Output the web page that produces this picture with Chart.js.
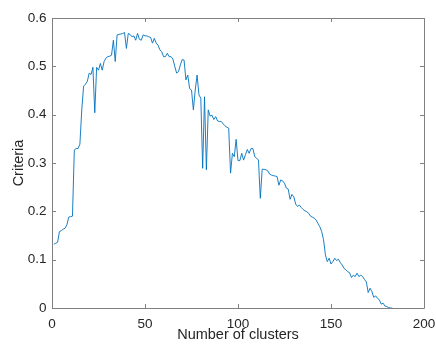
<!DOCTYPE html>
<html>
<head>
<meta charset="utf-8">
<script src="https://cdn.jsdelivr.net/npm/chart.js@4"></script>
<style>
  html, body { margin: 0; padding: 0; background: #fff; }
  #wrap { position: relative; width: 436px; height: 351px; }
</style>
</head>
<body>
<div id="wrap"><canvas id="graph"></canvas></div>
<script>
// number of clusters (x) and criteria value (y)
var clusters = [];
for (var k = 1; k <= 183; k++) clusters.push(k);

var criteria = [
  0.132, 0.134, 0.136, 0.158, 0.160, 0.163, 0.165, 0.172, 0.188, 0.189,
  0.190, 0.327, 0.330, 0.330, 0.339, 0.410, 0.459, 0.463, 0.469, 0.486,
  0.483, 0.498, 0.404, 0.498, 0.492, 0.506, 0.492, 0.510, 0.517, 0.520,
  0.521, 0.523, 0.554, 0.510, 0.565, 0.566, 0.567, 0.568, 0.570, 0.537,
  0.568, 0.566, 0.561, 0.563, 0.554, 0.568, 0.556, 0.554, 0.565, 0.563,
  0.563, 0.561, 0.560, 0.548, 0.558, 0.548, 0.544, 0.534, 0.530, 0.520,
  0.520, 0.527, 0.520, 0.520, 0.515, 0.500, 0.486, 0.489, 0.503, 0.514,
  0.513, 0.472, 0.482, 0.454, 0.451, 0.410, 0.451, 0.482, 0.441, 0.434,
  0.289, 0.437, 0.286, 0.410, 0.397, 0.399, 0.390, 0.396, 0.387, 0.386,
  0.386, 0.381, 0.377, 0.374, 0.372, 0.279, 0.320, 0.313, 0.349, 0.305,
  0.305, 0.320, 0.306, 0.317, 0.328, 0.320, 0.330, 0.330, 0.313, 0.310,
  0.306, 0.227, 0.287, 0.287, 0.286, 0.284, 0.277, 0.275, 0.274, 0.273,
  0.272, 0.254, 0.265, 0.263, 0.258, 0.248, 0.246, 0.225, 0.235, 0.230,
  0.215, 0.210, 0.213, 0.208, 0.204, 0.201, 0.199, 0.196, 0.190, 0.188,
  0.186, 0.182, 0.175, 0.168, 0.158, 0.141, 0.110, 0.096, 0.103, 0.091,
  0.096, 0.103, 0.098, 0.101, 0.094, 0.089, 0.082, 0.079, 0.075, 0.073,
  0.063, 0.068, 0.065, 0.072, 0.065, 0.068, 0.065, 0.059, 0.054, 0.032,
  0.041, 0.034, 0.022, 0.025, 0.020, 0.017, 0.008, 0.010, 0.004, 0.003,
  0.001, 0.000, 0.000
];

var xTicks = [0, 50, 100, 150, 200];
var yTicks = [0, 0.1, 0.2, 0.3, 0.4, 0.5, 0.6];

var axisColor = '#808080';
var textColor = '#262626';
var fontFamily = '"Liberation Sans", Arial, Helvetica, sans-serif';

// box round the plot and inward tick marks, like matlab
var boxPlugin = {
  id: 'box',
  afterDraw: function(chart) {
    var c = chart.ctx, a = chart.chartArea;
    var sx = chart.scales.x, sy = chart.scales.y;
    c.save();
    c.strokeStyle = axisColor;
    c.lineWidth = 1;
    c.beginPath();
    c.rect(Math.round(a.left) + 0.5, Math.round(a.top) + 0.5,
           Math.round(a.right - a.left), Math.round(a.bottom - a.top));
    var t = 4;
    xTicks.forEach(function(v) {
      var px = Math.round(sx.getPixelForValue(v)) + 0.5;
      c.moveTo(px, a.bottom); c.lineTo(px, a.bottom - t);
      c.moveTo(px, a.top); c.lineTo(px, a.top + t);
    });
    yTicks.forEach(function(v) {
      var py = Math.round(sy.getPixelForValue(v)) + 0.5;
      c.moveTo(a.left, py); c.lineTo(a.left + t, py);
      c.moveTo(a.right, py); c.lineTo(a.right - t, py);
    });
    c.stroke();
    c.restore();
  }
};

document.addEventListener("DOMContentLoaded", function() {
  var ctx = document.getElementById('graph').getContext('2d');

  var chart = new Chart(ctx, {
    type: 'line',
    data: {
      labels: clusters,
      datasets: [{
        label: 'Criteria',
        data: clusters.map(function(x, i) { return { x: x, y: criteria[i] }; }),
        borderColor: '#0072BD',
        backgroundColor: 'transparent',
        borderWidth: 0.9,
        pointRadius: 0,
        tension: 0
      }]
    },
    options: {
      responsive: true,
      maintainAspectRatio: false,
      animation: false,
      layout: {
        padding: { left: 0, right: 12, top: 18, bottom: 0 }
      },
      plugins: {
        legend: { display: false },
        tooltip: { enabled: false }
      },
      scales: {
        x: {
          type: 'linear',
          min: 0,
          max: 200,
          border: { display: false },
          grid: { display: false, drawTicks: false },
          afterBuildTicks: function(scale) {
            scale.ticks = xTicks.map(function(v) { return { value: v }; });
          },
          afterFit: function(scale) {
            scale.height = 43;
            scale.paddingLeft = 0;
            scale.paddingRight = 0;
          },
          ticks: {
            color: textColor,
            padding: 8,
            maxRotation: 0,
            font: { family: fontFamily, size: 13.5 }
          },
          title: {
            display: true,
            text: 'Number of clusters',
            color: textColor,
            padding: { top: 0, bottom: 7 },
            font: { family: fontFamily, size: 14.5 }
          }
        },
        y: {
          min: 0,
          max: 0.6,
          border: { display: false },
          grid: { display: false, drawTicks: false },
          afterBuildTicks: function(scale) {
            scale.ticks = yTicks.map(function(v) { return { value: v }; });
          },
          afterFit: function(scale) {
            scale.width = 52;
            scale.paddingTop = 0;
            scale.paddingBottom = 0;
          },
          ticks: {
            color: textColor,
            padding: 5.5,
            font: { family: fontFamily, size: 13.5 },
            callback: function(v) { return String(Math.round(v * 10) / 10); }
          },
          title: {
            display: true,
            text: 'Criteria',
            color: textColor,
            padding: { top: 10, bottom: 0 },
            font: { family: fontFamily, size: 14.5 }
          }
        }
      }
    },
    plugins: [boxPlugin]
  });
});
</script>
</body>
</html>
